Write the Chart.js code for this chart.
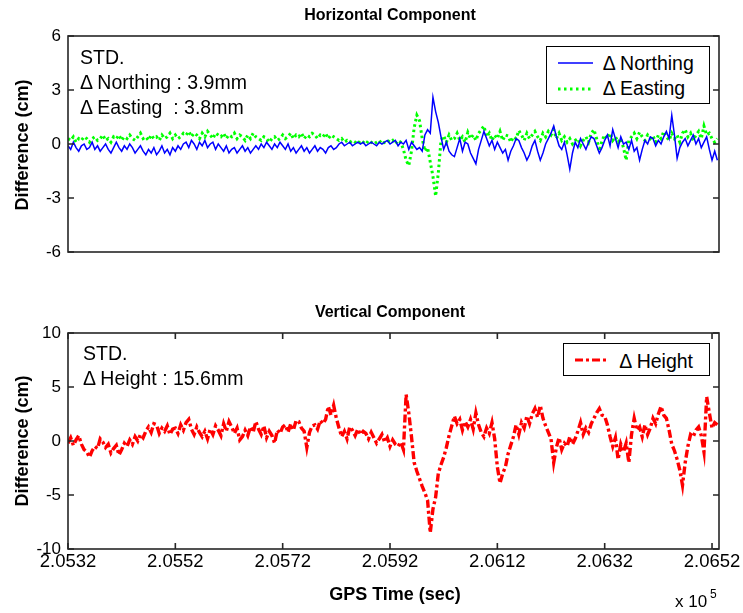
<!DOCTYPE html>
<html>
<head>
<meta charset="utf-8">
<script src="https://cdn.jsdelivr.net/npm/chart.js@4.4.1/dist/chart.umd.min.js"></script>
<style>
  body { margin: 0; background: #fff; }
  #page { position: relative; width: 743px; height: 613px; overflow: hidden; font-family: "Liberation Sans", Arial, sans-serif; color: #000; }
  #page canvas { position: absolute; left: 0; }
  .t { position: absolute; white-space: pre; line-height: 1; }
  .title { font-size: 16px; font-weight: bold; left: 0; width: 780px; text-align: center; }
  .ylab { font-size: 18px; font-weight: bold; transform: translate(-50%, -50%) rotate(-90deg); }
  .note { font-size: 19.5px; }
  .legend { position: absolute; border: 1.5px solid #000; background: #fff; box-sizing: border-box; }
  .legend svg { position: absolute; }
</style>
</head>
<body>
<div id="page">
  <canvas id="hor" width="743" height="300" style="top:0"></canvas>
  <canvas id="ver" width="743" height="313" style="top:300px"></canvas>

  <div class="t title" style="top:6.5px">Horizontal Component</div>
  <div class="t title" style="top:303.5px">Vertical Component</div>
  <div class="t ylab" style="left:22px;top:145px">Difference (cm)</div>
  <div class="t ylab" style="left:22px;top:441px">Difference (cm)</div>
  <div class="t" style="font-size:18px;font-weight:bold;left:0;width:790px;text-align:center;top:584.8px">GPS Time (sec)</div>
  <div class="t" style="font-size:17px;left:675px;top:592.5px">x 10</div>
  <div class="t" style="font-size:12px;left:710px;top:588px">5</div>

  <div class="t note" style="left:80px;top:47.5px">STD.</div>
  <div class="t note" style="left:80px;top:72.5px">Δ Northing : 3.9mm</div>
  <div class="t note" style="left:80px;top:97.5px">Δ Easting  : 3.8mm</div>
  <div class="t note" style="left:83px;top:343.5px">STD.</div>
  <div class="t note" style="left:83px;top:368.5px">Δ Height : 15.6mm</div>

  <div class="legend" style="left:546px;top:45.5px;width:163.5px;height:58px">
    <svg style="left:11px;top:11px" width="36" height="10"><line x1="0" y1="5" x2="35" y2="5" stroke="#0000ff" stroke-width="1.5"/></svg>
    <svg style="left:11px;top:37px" width="36" height="10"><line x1="0" y1="5" x2="35" y2="5" stroke="#00ff00" stroke-width="3" stroke-dasharray="2.5 3.5"/></svg>
  </div>
  <div class="t note" style="left:602.7px;top:53.5px">Δ Northing</div>
  <div class="t note" style="left:602.7px;top:78.5px">Δ Easting</div>

  <div class="legend" style="left:562.5px;top:343px;width:147px;height:33px">
    <svg style="left:11px;top:11px" width="36" height="10"><line x1="0" y1="5" x2="34" y2="5" stroke="#ff0000" stroke-width="3" stroke-dasharray="8 3 3 3"/></svg>
  </div>
  <div class="t note" style="left:619.3px;top:351.5px">Δ Height</div>
</div>

<script>
const T0 = 205320;   // first epoch (sec)
const DT = 5;        // sample spacing (sec)
const X_MAX = 206533;
const X_TICKS = [205320, 205520, 205720, 205920, 206120, 206320, 206520];
const H_TICKS = [-6, -3, 0, 3, 6];
const V_TICKS = [-10, -5, 0, 5, 10];

// horizontal differences (cm)
const NORTHING = [
  -0.1, -0.3, 0.1, -0.2, -0.4, -0.1, 0.0, -0.3, -0.2, 0.1,
  -0.3, -0.1, -0.4, -0.2, 0.0, -0.3, -0.5, -0.2, 0.1, -0.2,
  -0.4, -0.1, -0.3, 0.0, -0.2, -0.5, -0.3, -0.1, -0.4, -0.6,
  -0.3, -0.5, -0.2, -0.6, -0.4, -0.1, -0.5, -0.3, -0.6, -0.2,
  -0.4, -0.1, -0.3, 0.0, 0.1, -0.2, 0.2, 0.0, -0.3, 0.1,
  -0.1, 0.2, -0.2, 0.0, 0.1, -0.3, 0.0, -0.2, -0.4, -0.1,
  -0.5, -0.3, -0.2, -0.5, -0.3, -0.1, -0.4, -0.2, -0.5, -0.3,
  -0.1, -0.3, 0.0, -0.2, 0.1, -0.1, -0.3, 0.0, -0.2, 0.1,
  -0.1, -0.3, 0.0, -0.4, -0.2, -0.5, -0.3, -0.1, -0.4, -0.2,
  -0.5, -0.3, -0.1, -0.4, -0.2, -0.3, -0.5, -0.2, -0.1, -0.3,
  -0.2, 0.0, 0.1, -0.1, 0.0, 0.1, -0.1, 0.0, 0.1, 0.0,
  0.1, -0.1, 0.0, 0.1, 0.0, -0.1, 0.1, 0.0, 0.1, 0.2,
  0.0, 0.1, 0.2, -0.1, 0.1, 0.0, 0.2, -0.3, 0.1, -0.1,
  -0.3, -0.2, -0.4, 0.5, 0.8, 0.6, 2.6, 1.8, 1.2, 0.4,
  -0.3, 0.1, -0.4, -0.6, -0.7, -0.2, 0.3, -0.4, 0.1, 0.0,
  -0.5, -0.8, -1.1, -0.3, 0.2, 0.7, 0.3, -0.1, 0.2, -0.3,
  0.1, -0.2, -0.5, -0.3, -0.9, -0.4, -0.1, 0.3, 0.2, -0.2,
  -0.5, -0.9, -0.6, -0.1, 0.2, -0.4, -0.9, -0.5, 0.0, 0.3,
  0.6, 1.0, 0.4, -0.1, -0.3, 0.1, -0.6, -1.4, -0.5, 0.1,
  -0.2, 0.3, 0.0, -0.3, 0.1, 0.4, 0.3, -0.1, -0.5, -0.2,
  0.2, 0.5, -0.1, 0.8, 0.3, -0.2, 0.4, 0.0, 0.1, -0.3,
  0.2, -0.4, -0.2, -0.9, -0.3, 0.2, 0.0, 0.4, 0.3, -0.1,
  0.2, 0.0, 0.4, 0.7, 0.3, 1.6, 0.5, -0.8, -0.2, 0.1,
  0.3, -0.1, 0.2, 0.5, 0.0, 0.3, -0.2, 0.1, 0.4, -0.3,
  -0.9, -0.4, -0.9,
];
const EASTING = [
  0.3, 0.2, 0.4, 0.1, 0.3, 0.2, 0.4, 0.3, 0.1, 0.3,
  0.4, 0.2, 0.3, 0.5, 0.2, 0.3, 0.1, 0.4, 0.3, 0.5,
  0.2, 0.4, 0.3, 0.5, 0.3, 0.2, 0.4, 0.6, 0.3, 0.4,
  0.2, 0.5, 0.3, 0.4, 0.2, 0.5, 0.3, 0.4, 0.6, 0.3,
  0.5, 0.3, 0.4, 0.6, 0.5, 0.7, 0.4, 0.6, 0.5, 0.3,
  0.6, 0.4, 0.7, 0.5, 0.3, 0.6, 0.5, 0.4, 0.6, 0.3,
  0.5, 0.4, 0.6, 0.3, 0.5, 0.4, 0.2, 0.5, 0.3, 0.6,
  0.4, 0.3, 0.2, 0.4, 0.3, 0.1, 0.3, 0.4, 0.2, 0.3,
  0.5, 0.3, 0.4, 0.6, 0.3, 0.5, 0.4, 0.6, 0.3, 0.5,
  0.4, 0.6, 0.5, 0.3, 0.5, 0.4, 0.6, 0.3, 0.5, 0.4,
  0.3, 0.2, 0.3, 0.1, 0.2, 0.1, 0.2, 0.1, 0.0, 0.2,
  0.1, 0.0, 0.2, 0.1, 0.0, 0.1, 0.2, 0.0, 0.1, 0.2,
  0.1, 0.2, 0.0, 0.2, 0.1, -0.3, -0.9, -1.2, -0.4, 0.9,
  1.6, 1.3, 0.3, -0.4, -0.2, -1.0, -1.8, -2.9, -1.6, 0.2,
  0.45, 0.1, 0.5, 0.2, 0.3, 0.6, 0.2, 0.4, 0.1, 0.65,
  0.3, 0.5, 0.2, 0.6, 0.8, 1.0, 0.4, 0.6, 0.2, 0.5,
  0.3, 0.7, 0.2, 0.5, 0.45, 0.1, 0.4, 0.3, 0.75, 0.5,
  0.2, 0.6, 0.3, 0.5, 0.7, 0.4, 0.2, 0.6, 0.4, 0.7,
  0.5, 0.8, 0.3, 0.6, 0.2, 0.4, 0.1, 0.3, 0.0, 0.2,
  0.3, -0.1, 0.2, 0.4, 0.1, 0.6, 0.8, 0.3, -0.4, 0.2,
  0.5, 0.3, 0.6, 0.2, 0.4, 0.1, 0.3, -0.2, -0.9, 0.2,
  0.4, 0.6, 0.3, 0.65, 0.4, 0.2, 0.5, 0.3, 0.45, 0.1,
  0.5, 0.3, 0.7, 0.4, 0.2, 0.6, 0.3, 0.5, 0.1, 0.6,
  0.8, 0.4, 0.6, 0.2, 0.5, 0.7, 0.3, 1.0, 0.5, 0.6,
  0.3, 0.1, 0.3,
];
// vertical difference (cm)
const HEIGHT = [
  -0.2, 0.3, -0.4, 0.1, 0.5, -0.3, -0.8, -1.0, -1.5, -0.9,
  -0.5, -0.7, 0.2, -0.1, -0.6, -0.3, -1.1, -0.7, -0.4, -1.3,
  -0.8, -0.2, -0.5, 0.1, -0.3, 0.4, 0.0, 0.6, 0.3, 0.9,
  1.3, 0.8, 1.6, 1.5, 0.7, 1.2, 0.9, 1.4, 0.6, 1.1,
  1.2, 0.7, 1.5, 1.0, 1.7, 2.0, 1.1, 0.6, 1.3, 0.8,
  0.4, 0.9, 0.2, 1.1, 0.6, 1.4, 1.0, 0.5, 1.6, 0.9,
  1.8, 1.3, 0.7, 1.2, 0.1, 0.4, 1.0, 0.5, 1.3, 0.8,
  1.8, 1.1, 0.6, 1.4, 0.3, 0.9, 0.5, -0.2, 1.0, 0.7,
  1.3, 1.5, 0.8, 1.6, 1.0, 1.9, 1.8, 1.2, 0.9, -0.6,
  0.8, 1.4, 1.5, 1.1, 1.9, 1.6, 2.0, 3.2, 2.4, 3.3,
  2.1, 1.2, 0.4, 0.9, 0.2, 1.3, 1.0, 0.5, 1.1, 0.6,
  0.9, 0.7, 0.2, 0.8, 0.3, -0.2, 0.2, 0.6, -0.1, 0.3,
  -0.5, 0.1, -0.3, -0.5, -0.1, -0.8, 4.3, 2.6, 0.4, -2.0,
  -2.8, -3.5, -4.2, -4.8, -5.5, -8.5, -6.3, -5.2, -3.0, -2.2,
  -1.5, -0.6, 0.5, 1.4, 2.3, 1.6, 2.0, 1.0, 1.8, 1.3,
  2.0, 1.1, 2.6, 1.5, 0.8, 0.4, 1.2, 0.7, 1.7, 0.2,
  -2.4, -3.9, -3.0, -2.4, -1.2, -0.4, 0.4, 1.5, 0.6, 1.7,
  1.2, 2.3, 1.6, 2.5, 3.0, 2.2, 3.3, 2.1, 1.4, 0.8,
  0.2, -2.0, -0.6, 0.3, -0.8, -0.2, -0.5, 0.4, -0.3, 0.2,
  0.9, 1.7, 0.6, 1.2, 0.8, 1.6, 2.1, 2.6, 3.0, 2.4,
  2.3, 1.5, 0.4, -0.5, 0.3, -1.7, -0.3, -1.0, -0.2, -2.0,
  0.6, 2.1, 1.0, 1.3, 0.4, 1.5, 0.6, 1.2, 2.1, 1.6,
  2.5, 3.2, 2.4, 2.1, 1.0, -0.3, -0.9, -1.7, -2.7, -4.1,
  -2.0, -0.5, 0.6, 0.4, 1.0, 1.3, 0.5, -1.0, 4.1, 2.6,
  1.2, 1.7, 1.5,
];

Chart.defaults.font.family = '"Liberation Sans", Arial, sans-serif';
Chart.defaults.color = '#000';

function points(series) {
  return series.map((v, i) => ({ x: T0 + i * DT, y: v }));
}

// box around the plot and matlab-style inward ticks
const framePlugin = {
  id: 'frame',
  afterDatasetsDraw(chart, args, opts) {
    const { ctx, chartArea: a, scales } = chart;
    const len = 6;
    ctx.save();
    ctx.strokeStyle = '#262626';
    ctx.lineWidth = 1.6;
    ctx.strokeRect(a.left, a.top, a.right - a.left, a.bottom - a.top);
    ctx.beginPath();
    scales.y.ticks.forEach((t) => {
      const y = scales.y.getPixelForValue(t.value);
      ctx.moveTo(a.left, y); ctx.lineTo(a.left + len, y);
      ctx.moveTo(a.right, y); ctx.lineTo(a.right - len, y);
    });
    if (opts.xTicks) {
      scales.x.ticks.forEach((t) => {
        const x = scales.x.getPixelForValue(t.value);
        ctx.moveTo(x, a.bottom); ctx.lineTo(x, a.bottom - len);
        ctx.moveTo(x, a.top); ctx.lineTo(x, a.top + len);
      });
    }
    ctx.stroke();
    ctx.restore();
  },
};

function yScale(min, max, ticks) {
  return {
    min, max,
    grid: { display: false, drawTicks: false },
    border: { display: false },
    afterBuildTicks: (s) => { s.ticks = ticks.map((value) => ({ value })); },
    afterFit: (s) => { s.width = 68; },
    ticks: { padding: 7, font: { size: 17 }, callback: (v) => String(v) },
  };
}

new Chart(document.getElementById('hor'), {
  type: 'line',
  data: {
    datasets: [
      { label: 'Δ Northing', data: points(NORTHING), borderColor: '#0000ff', borderWidth: 1.5 },
      { label: 'Δ Easting', data: points(EASTING), borderColor: '#00ff00', borderWidth: 3, borderDash: [2.5, 3] },
    ],
  },
  options: {
    responsive: false,
    animation: false,
    parsing: false,
    elements: { point: { radius: 0 }, line: { tension: 0 } },
    layout: { padding: { top: 36, right: 24, bottom: 48, left: 0 } },
    scales: {
      x: { type: 'linear', min: T0, max: X_MAX, display: false },
      y: yScale(-6, 6, H_TICKS),
    },
    plugins: { legend: { display: false }, tooltip: { enabled: false }, frame: { xTicks: false } },
  },
  plugins: [framePlugin],
});

new Chart(document.getElementById('ver'), {
  type: 'line',
  data: {
    datasets: [
      { label: 'Δ Height', data: points(HEIGHT), borderColor: '#ff0000', borderWidth: 3.4, borderDash: [8, 3, 3, 3] },
    ],
  },
  options: {
    responsive: false,
    animation: false,
    parsing: false,
    elements: { point: { radius: 0 }, line: { tension: 0 } },
    layout: { padding: { top: 33, right: 24, bottom: 0, left: 0 } },
    scales: {
      x: {
        type: 'linear', min: T0, max: X_MAX,
        grid: { display: false, drawTicks: false },
        border: { display: false },
        afterBuildTicks: (s) => { s.ticks = X_TICKS.map((value) => ({ value })); },
        afterFit: (s) => { s.height = 64; },
        ticks: { padding: 2, autoSkip: false, maxRotation: 0, font: { size: 18.5 }, callback: (v) => (v / 1e5).toFixed(4) },
      },
      y: yScale(-10, 10, V_TICKS),
    },
    plugins: { legend: { display: false }, tooltip: { enabled: false }, frame: { xTicks: true } },
  },
  plugins: [framePlugin],
});
</script>
</body>
</html>
